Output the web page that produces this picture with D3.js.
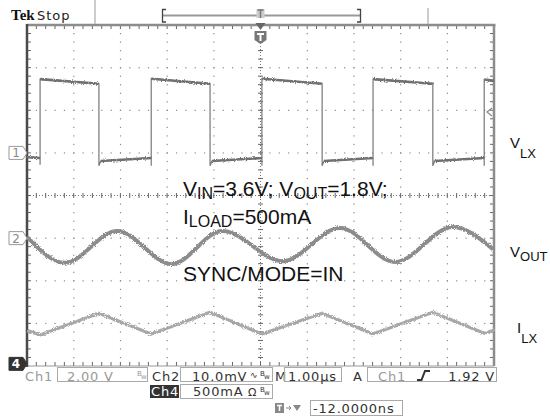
<!DOCTYPE html>
<html>
  <head>
    <meta charset="utf-8">
    <title>Buck converter switching waveforms</title>
    <script src="https://d3js.org/d3.v7.min.js"></script>
    <style>
      body { margin: 0; background: #fff; }
      svg { display: block; }
      .tek { font-family: "DejaVu Sans", sans-serif; font-size: 13px; letter-spacing: 0.8px; fill: #333; }
      .dim { fill: #999; }
      .note { font-family: "Liberation Sans", Arial, sans-serif; fill: #111; }
    </style>
  </head>
  <body>
    <svg id="scope" width="550" height="419">
      <defs>
        <filter id="grain" filterUnits="userSpaceOnUse" x="0" y="0" width="550" height="419">
          <feTurbulence type="fractalNoise" baseFrequency="0.9" numOctaves="1" result="n"/>
          <feDisplacementMap in="SourceGraphic" in2="n" scale="4" xChannelSelector="R" yChannelSelector="G"/>
        </filter>
      </defs>
    </svg>
    <script>
      // traces: time in µs (1 µs/div), level in divisions from centre
      const vlxTime  = [0, 0.28, 0.28, 0.28, 1.54, 1.54, 1.58, 2.66, 2.66, 2.66, 3.92, 3.92, 3.96,
                        5.03, 5.03, 5.03, 6.32, 6.32, 6.36, 7.41, 7.41, 7.41, 8.69, 8.69, 8.73,
                        9.79, 9.79, 9.79, 10];
      const vlxLevel = [0.90, 0.88, 0.72, 2.73, 2.62, 0.70, 0.81, 0.88, 0.70, 2.74, 2.62, 0.70, 0.81,
                        0.88, 0.70, 2.74, 2.62, 0.70, 0.81, 0.88, 0.70, 2.73, 2.62, 0.70, 0.81,
                        0.88, 0.70, 2.72, 2.69];
      const voutTime  = [0, 0.81, 1.93, 3.10, 4.18, 5.48, 6.70, 7.88, 9.12, 10];
      const voutLevel = [-0.97, -1.58, -0.83, -1.61, -0.83, -1.54, -0.76, -1.56, -0.74, -1.28];
      const ilxTime  = [0, 0.28, 1.54, 2.66, 3.92, 5.03, 6.32, 7.41, 8.69, 9.79, 10];
      const ilxLevel = [-3.16, -3.27, -2.76, -3.25, -2.74, -3.25, -2.76, -3.25, -2.74, -3.23, -3.16];
      // channel ground markers and trigger level (divisions)
      const markerNames = ["1", "2", "4"];
      const markerLevels = [1, -1, -3.95];
      const triggerLevel = 1.96;
      // readouts
      const ch1Scale = "2.00 V", ch2Scale = "10.0mV", ch4Scale = "500mA";
      const timeBase = "1.00µs", trigLevelText = "1.92 V", trigPos = "-12.0000ns";

      const svg = d3.select("#scope");
      const x = d3.scaleLinear().domain([0, 10]).range([27, 494]);
      const y = d3.scaleLinear().domain([-4, 4]).range([366, 25]);

      // graticule dots on the major lines
      const grat = svg.append("g");
      const stepsX = d3.range(1, 50).map(d => d / 5);
      const stepsY = d3.range(-19, 20).map(d => d / 5);
      [1, 2, 3, 4, 6, 7, 8, 9].forEach(function(i) {
        grat.selectAll(null).data(stepsY).enter().append("rect")
          .attr("x", x(i) - 0.5).attr("y", d => y(d) - 0.5)
          .attr("width", 1.2).attr("height", 1.2).attr("fill", "#8a8a8a");
      });
      [-3, -2, -1, 1, 2, 3].forEach(function(j) {
        grat.selectAll(null).data(stepsX).enter().append("rect")
          .attr("x", d => x(d) - 0.5).attr("y", y(j) - 0.5)
          .attr("width", 1.2).attr("height", 1.2).attr("fill", "#8a8a8a");
      });
      // centre cross with minor ticks
      grat.append("line").attr("x1", x(0)).attr("x2", x(10)).attr("y1", y(0)).attr("y2", y(0))
        .attr("stroke", "#777").attr("stroke-dasharray", "1,2");
      grat.append("line").attr("x1", x(5)).attr("x2", x(5)).attr("y1", y(4)).attr("y2", y(-4))
        .attr("stroke", "#777").attr("stroke-dasharray", "1,2");
      grat.selectAll(null).data(stepsX).enter().append("line")
        .attr("x1", d => x(d)).attr("x2", d => x(d)).attr("y1", y(0) - 2.5).attr("y2", y(0) + 2.5)
        .attr("stroke", "#666");
      grat.selectAll(null).data(stepsY).enter().append("line")
        .attr("y1", d => y(d)).attr("y2", d => y(d)).attr("x1", x(5) - 2.5).attr("x2", x(5) + 2.5)
        .attr("stroke", "#666");
      // border ticks
      grat.selectAll(null).data(stepsX).enter().append("line")
        .attr("x1", d => x(d)).attr("x2", d => x(d)).attr("y1", y(4)).attr("y2", y(4) + 4)
        .attr("stroke", "#666");
      grat.selectAll(null).data(stepsX).enter().append("line")
        .attr("x1", d => x(d)).attr("x2", d => x(d)).attr("y1", y(-4)).attr("y2", y(-4) - 4)
        .attr("stroke", "#666");
      grat.selectAll(null).data(stepsY).enter().append("line")
        .attr("y1", d => y(d)).attr("y2", d => y(d)).attr("x1", x(0)).attr("x2", x(0) + 4)
        .attr("stroke", "#666");
      grat.selectAll(null).data(stepsY).enter().append("line")
        .attr("y1", d => y(d)).attr("y2", d => y(d)).attr("x1", x(10)).attr("x2", x(10) - 4)
        .attr("stroke", "#666");
      // frame
      grat.append("line").attr("x1", x(0)).attr("x2", x(10) + 1.5).attr("y1", y(4)).attr("y2", y(4))
        .attr("stroke", "#8c8c8c").attr("stroke-width", 2.5);
      grat.append("line").attr("x1", x(10)).attr("x2", x(10)).attr("y1", y(4)).attr("y2", y(-4))
        .attr("stroke", "#8c8c8c").attr("stroke-width", 2.5);
      grat.append("line").attr("x1", x(0)).attr("x2", x(10)).attr("y1", y(-4)).attr("y2", y(-4))
        .attr("stroke", "#999").attr("stroke-width", 1);
      grat.append("line").attr("x1", x(0)).attr("x2", x(0)).attr("y1", y(4) - 1).attr("y2", y(-4) + 1)
        .attr("stroke", "#4a4a4a").attr("stroke-width", 2.5);

      // traces
      const line = d3.line().x(d => x(d[0])).y(d => y(d[1]));
      const vlx = d3.zip(vlxTime, vlxLevel);
      const vout = d3.zip(voutTime, voutLevel);
      const ilx = d3.zip(ilxTime, ilxLevel);
      const traces = svg.append("g");
      traces.append("path").attr("d", line.curve(d3.curveLinear)(ilx))
        .attr("fill", "none").attr("stroke", "#a8a8a8").attr("stroke-width", 3.2)
        .attr("stroke-linejoin", "round").attr("filter", "url(#grain)");
      traces.append("path").attr("d", line.curve(d3.curveMonotoneX)(vout))
        .attr("fill", "none").attr("stroke", "#8c8c8c").attr("stroke-width", 4)
        .attr("filter", "url(#grain)");
      traces.append("path").attr("d", line.curve(d3.curveLinear)(vlx))
        .attr("fill", "none").attr("stroke", "#777").attr("stroke-width", 1.2);
      const levels = d3.pairs(vlx).filter(p => p[1][0] - p[0][0] > 0.1);
      traces.selectAll(null).data(levels).enter().append("line")
        .attr("x1", d => x(d[0][0])).attr("y1", d => y(d[0][1]))
        .attr("x2", d => x(d[1][0])).attr("y2", d => y(d[1][1]))
        .attr("stroke", "#6f6f6f").attr("stroke-width", 2.6).attr("filter", "url(#grain)");

      // channel markers on the left edge
      const markers = svg.append("g").selectAll(null)
        .data(d3.zip(markerNames, markerLevels)).enter().append("g")
        .attr("transform", d => "translate(9," + y(d[1]) + ")");
      markers.append("path")
        .attr("d", "M0,-6.5H14L18,0L14,6.5H0Z")
        .attr("fill", d => d[0] == "4" ? "#333" : "#fff")
        .attr("stroke", d => d[0] == "4" ? "#333" : "#999");
      markers.append("text").attr("x", 7).attr("y", 4.5).attr("text-anchor", "middle")
        .attr("font-family", "DejaVu Sans").attr("font-size", 12)
        .attr("font-weight", d => d[0] == "4" ? "bold" : "normal")
        .attr("fill", d => d[0] == "4" ? "#fff" : "#888")
        .text(d => d[0]);
      // trigger level arrow
      svg.append("path")
        .attr("d", "M" + (x(10) - 2) + "," + (y(triggerLevel) - 4) + "l-5,4l5,4")
        .attr("fill", "none").attr("stroke", "#888").attr("stroke-width", 1.2);

      // top status bar
      const statusBar = svg.append("g");
      statusBar.append("text").attr("x", 11).attr("y", 20).attr("font-family", "Liberation Serif")
        .attr("font-weight", "bold").attr("font-size", 15).attr("fill", "#111").text("Tek");
      statusBar.append("text").attr("x", 37).attr("y", 20).attr("font-family", "DejaVu Sans")
        .attr("font-size", 13).attr("letter-spacing", 1).attr("fill", "#222").text("Stop");
      statusBar.append("line").attr("x1", 95).attr("x2", 95).attr("y1", 0).attr("y2", 24)
        .attr("stroke", "#bbb").attr("stroke-width", 1.5);
      statusBar.append("line").attr("x1", 428).attr("x2", 428).attr("y1", 8).attr("y2", 24)
        .attr("stroke", "#bbb").attr("stroke-width", 1.5);
      statusBar.append("line").attr("x1", 163).attr("x2", 361).attr("y1", 15.5).attr("y2", 15.5)
        .attr("stroke", "#999").attr("stroke-width", 2);
      statusBar.append("path").attr("d", "M166,9.5H162.5V22H166M357,9.5H360.5V22H357")
        .attr("fill", "none").attr("stroke", "#444").attr("stroke-width", 1.3);
      statusBar.append("rect").attr("x", x(5) - 4).attr("y", 9).attr("width", 8).attr("height", 9)
        .attr("fill", "#ccc");
      statusBar.append("path").attr("d", "M" + (x(5) - 3) + ",10H" + (x(5) + 3) + "M" + x(5) + ",10V18")
        .attr("stroke", "#777").attr("stroke-width", 1.5);
      statusBar.append("path").attr("d", "M" + (x(5) - 5) + ",23L" + (x(5) + 5) + ",23L" + x(5) + ",30Z")
        .attr("fill", "#666");
      statusBar.append("path")
        .attr("d", "M" + (x(5) - 6) + ",31H" + (x(5) + 6) + "V40L" + x(5) + ",44L" + (x(5) - 6) + ",40Z")
        .attr("fill", "#777");
      statusBar.append("path").attr("d", "M" + (x(5) - 3.5) + ",34H" + (x(5) + 3.5) + "M" + x(5) + ",34V41")
        .attr("stroke", "#fff").attr("stroke-width", 2);

      // right-hand trace labels
      const names = svg.append("g").attr("class", "note");
      function label(xp, yp, main, sub, dy) {
        const t = names.append("text").attr("x", xp).attr("y", yp);
        t.append("tspan").attr("font-size", 15).text(main);
        t.append("tspan").attr("font-size", 13).attr("dy", dy).text(sub);
      }
      label(510, 148, "V", "LX", 10);
      label(510, 257, "V", "OUT", 4);
      label(517, 333, "I", "LX", 10);

      // test conditions
      const n1 = names.append("text").attr("x", 183).attr("y", 196).attr("font-size", 21);
      n1.append("tspan").text("V");
      n1.append("tspan").attr("font-size", 16).attr("dy", 3).text("IN");
      n1.append("tspan").attr("dy", -3).text("=3.6V; V");
      n1.append("tspan").attr("font-size", 16).attr("dy", 3).text("OUT");
      n1.append("tspan").attr("dy", -3).text("=1.8V;");
      const n2 = names.append("text").attr("x", 183).attr("y", 224).attr("font-size", 21);
      n2.append("tspan").text("I");
      n2.append("tspan").attr("font-size", 16).attr("dy", 3).text("LOAD");
      n2.append("tspan").attr("dy", -3).text("=500mA");
      names.append("text").attr("x", 183).attr("y", 281).attr("font-size", 21).text("SYNC/MODE=IN");

      // bottom readouts
      const bot = svg.append("g");
      function box(x0, y0, w, h) {
        bot.append("rect").attr("x", x0).attr("y", y0).attr("width", w).attr("height", h)
          .attr("fill", "none").attr("stroke", "#aaa");
      }
      function txt(xp, yp, s, cls) {
        return bot.append("text").attr("class", "tek " + (cls || "")).attr("x", xp).attr("y", yp).text(s);
      }
      function bw(xp, yp, cls) {
        txt(xp, yp - 3, "B", cls).style("font-size", "7px").style("letter-spacing", "0");
        txt(xp + 4, yp, "w", cls).style("font-size", "7px").style("letter-spacing", "0");
      }
      txt(25, 380.5, "Ch1", "dim");
      box(57.5, 367.5, 90, 14);
      txt(67, 380.5, ch1Scale, "dim");
      bw(137, 379, "dim");
      txt(152, 380.5, "Ch2");
      box(180.5, 367.5, 92, 14);
      txt(192, 380.5, ch2Scale);
      txt(250, 378, "∿").style("font-size", "9px");
      bw(260, 379);
      txt(275, 380.5, "M");
      box(284.5, 367.5, 57, 14);
      txt(288, 380.5, timeBase);
      txt(353, 380.5, "A");
      box(367.5, 367.5, 129, 14);
      txt(378, 380.5, "Ch1", "dim");
      bot.append("path").attr("d", "M417,380H421.5L425,371H430")
        .attr("fill", "none").attr("stroke", "#333").attr("stroke-width", 2);
      txt(495, 380.5, trigLevelText).attr("text-anchor", "end");

      bot.append("rect").attr("x", 150).attr("y", 385).attr("width", 29).attr("height", 13).attr("fill", "#333");
      txt(151, 396, "Ch4").style("fill", "#fff");
      box(180.5, 384.5, 92, 14);
      txt(193, 396, ch4Scale);
      txt(248, 396, "Ω").style("font-size", "11px");
      bw(260, 395);

      bot.append("rect").attr("x", 275).attr("y", 403).attr("width", 9).attr("height", 10).attr("fill", "#888");
      bot.append("path").attr("d", "M277,405.5H282M279.5,405.5V411")
        .attr("stroke", "#fff").attr("stroke-width", 1.5);
      bot.append("path").attr("d", "M286,408H291M289,406L291,408L289,410")
        .attr("fill", "none").attr("stroke", "#888");
      bot.append("path").attr("d", "M293,405H301L297,411Z").attr("fill", "#888");
      box(310.5, 400.5, 92, 15);
      txt(313, 412.5, trigPos);
    </script>
  </body>
</html>
